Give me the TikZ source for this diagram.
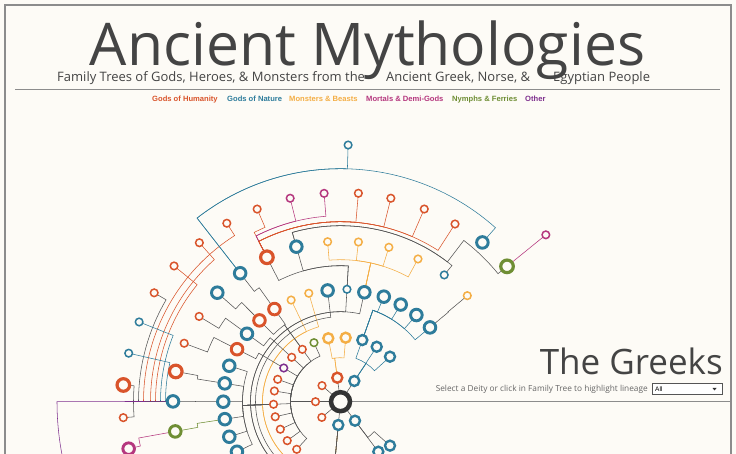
\documentclass[tikz,border=0pt]{standalone}
\usepackage{fontspec}
\setmainfont{Open Sans}
\newfontfamily\lsans{Liberation Sans}
\definecolor{bg}{HTML}{FDFBF6}
\definecolor{chum}{HTML}{D9542B}
\definecolor{cnat}{HTML}{2E7C9B}
\definecolor{cmon}{HTML}{F4AE45}
\definecolor{cmor}{HTML}{B5377E}
\definecolor{cnym}{HTML}{6F8E34}
\definecolor{coth}{HTML}{7E2F8E}
\definecolor{clnk}{HTML}{555555}
\definecolor{cdark}{HTML}{333333}
\definecolor{ctitle}{HTML}{444444}
\definecolor{cframe}{HTML}{8C8C8C}
\pgfdeclarelayer{bot}
\pgfdeclarelayer{links}
\pgfsetlayers{bot,links,main}
\newcommand\lnk[6]{\draw[#1] (#2) -- (#3:#6pt) arc[start angle=#3, end angle=#5, radius=#6pt] -- (#4);}
\begin{document}
\begin{tikzpicture}[x=1pt,y=1pt,
  nd/.style={circle, inner sep=0pt, outer sep=0pt, fill=bg},
  rs/.style={nd, minimum size=7.6pt, line width=1.5pt},
  rm/.style={nd, minimum size=10pt, line width=2.4pt},
  rl/.style={nd, minimum size=11.6pt, line width=2.9pt},
  rx/.style={nd, minimum size=12.6pt, line width=3.2pt},
  hum/.style={draw=chum}, nat/.style={draw=cnat}, mon/.style={draw=cmon},
  mor/.style={draw=cmor}, nym/.style={draw=cnym}, oth/.style={draw=coth},
  lk/.style={line width=0.55pt, draw=clnk},
  lhum/.style={line width=0.55pt, draw=chum},
  lnat/.style={line width=0.55pt, draw=cnat},
  lmon/.style={line width=0.55pt, draw=cmon},
  lmor/.style={line width=0.55pt, draw=cmor},
  lnym/.style={line width=0.55pt, draw=cnym},
  loth/.style={line width=0.55pt, draw=coth},
  legend/.style={anchor=base west, inner sep=0pt, font=\lsans\bfseries\fontsize{7.6}{8}\selectfont}
]
\useasboundingbox (0,0) rectangle (736,454);
\begin{pgfonlayer}{bot}
\fill[bg] (0,0) rectangle (736,454);
\end{pgfonlayer}

% frame
\draw[cframe, line width=1.3pt] (5,-5) -- (5,449) -- (731,449) -- (731,-5);

% title block
\node[anchor=base, inner sep=0pt, text=ctitle] (title) at (367.5,388) {\resizebox{555pt}{!}{Ancient Mythologies}};
\node[anchor=base west, inner sep=0pt, text=ctitle, font=\fontsize{13}{15}\selectfont] (sub1) at (57,372) {Family Trees of Gods, Heroes, \& Monsters from the};
\node[anchor=base west, inner sep=0pt, text=ctitle, font=\fontsize{13}{15}\selectfont] (sub2) at (386,372) {Ancient Greek, Norse, \&};
\node[anchor=base west, inner sep=0pt, text=ctitle, font=\fontsize{13}{15}\selectfont] (sub3) at (553,372) {Egyptian People};
\coordinate (ruleL) at (15,365);
\coordinate (ruleR) at (720,365);
\draw[cframe, line width=0.8pt] (ruleL) -- (ruleR);

% legend
\node[legend, text=chum] (lg1) at (152,352) {Gods of Humanity};
\node[legend, text=cnat] (lg2) at (227,352) {Gods of Nature};
\node[legend, text=cmon] (lg3) at (289,352) {Monsters \& Beasts};
\node[legend, text=cmor] (lg4) at (366,352) {Mortals \& Demi-Gods};
\node[legend, text=cnym] (lg5) at (452,352) {Nymphs \& Ferries};
\node[legend, text=coth] (lg6) at (525,352) {Other};

% The Greeks
\node[anchor=base east, inner sep=0pt, text=ctitle, font=\fontsize{35}{40}\selectfont] (greeks) at (723,79) {The Greeks};
\node[anchor=base east, inner sep=0pt, text=gray!80!black, font=\fontsize{8.3}{10}\selectfont] (seltxt) at (648,62) {Select a Deity or click in Family Tree to highlight lineage};
\node[draw=clnk, line width=0.6pt, fill=white, minimum width=70pt, minimum height=11pt, inner sep=0pt, anchor=south west] (sel) at (652,59) {};
\node[anchor=west, inner sep=0pt, font=\lsans\fontsize{6.5}{7}\selectfont] (selall) at (655,64.5) {All};
\fill[cdark] (712.5,66) -- (716.5,66) -- (714.5,63.5) -- cycle;

% ---------------- tree ----------------
\begin{scope}[shift={(340.5,52.3)}]
\node[nd, minimum size=19pt, line width=4.5pt, draw=cdark] (R) at (0,0) {};
% inner ring
\node[rs,hum] (a1) at (139:24.5pt) {};
\node[rs,hum] (a2) at (180:25pt) {};
\node[rs,hum] (a3) at (220:24.4pt) {};
\node[rm,hum] (a4) at (97.6:24.2pt) {};
\node[rm,nat] (a5) at (56.3:24.9pt) {};
\node[rm,nat] (a6) at (264.6:23.4pt) {};
\node[rm,nat] (a7) at (307.3:23.9pt) {};
% ring 2
\node[rs,nym] (b1) at (114.2:64.7pt) {};
\node[rs,hum] (b2) at (126.1:64.8pt) {};
\node[rs,hum] (b3) at (137.7:66pt) {};
\node[rs,oth] (b4) at (149.3:66pt) {};
\node[rs,hum] (b5) at (160.4:66.7pt) {};
\node[rs,hum] (b6) at (170.8:67pt) {};
\node[rs,hum] (b7) at (182.2:67pt) {};
\node[rs,hum] (b8) at (193:67pt) {};
\node[rs,hum] (b9) at (204.6:66.2pt) {};
\node[rs,hum] (b10) at (216.2:66pt) {};
\node[rs,hum] (b11) at (227.4:64.7pt) {};
\node[rm,mon] (y1) at (100.9:64.6pt) {};
\node[rm,mon] (y2) at (85.4:64.2pt) {};
\node[rm,nat] (c1) at (70.5:65.4pt) {};
\node[rm,nat] (c2) at (56.6:65.8pt) {};
\node[rm,nat] (c3) at (42.3:66.9pt) {};
\node[rm,nat] (d1) at (318.4:66.2pt) {};
\node[rm,nat] (d2) at (307.1:62.7pt) {};
% ring 3
\node[rs,mon] (e1) at (115.9:113pt) {};
\node[rs,mon] (e2) at (106.3:113pt) {};
\node[rl,nat] (e3) at (96.6:112pt) {};
\node[rs,nat] (e4) at (86.7:112.6pt) {};
\node[rl,nat] (e5) at (77.7:112pt) {};
\node[rl,nat] (e6) at (67.6:113.6pt) {};
\node[rl,nat] (e7) at (58.2:114.3pt) {};
\node[rl,nat] (e8) at (48.8:115.2pt) {};
\node[rl,nat] (e9) at (39.7:116.3pt) {};
\node[rl,hum] (f1) at (125.5:113.8pt) {};
\node[rl,hum] (f2) at (134.9:114.8pt) {};
\node[rl,nat] (f3) at (144:115.6pt) {};
\node[rl,hum] (f4) at (153.1:116pt) {};
\node[rl,nat] (f5) at (162.1:116.9pt) {};
\node[rl,nat] (f6) at (171:117.2pt) {};
\node[rl,nat] (f7) at (180:117.2pt) {};
\node[rl,nat] (f8) at (188.6:117pt) {};
\node[rl,nat] (f9) at (197.5:116.6pt) {};
\node[rl,nat] (f10) at (205.8:115pt) {};
% ring 4
\node[rs,mon] (g1) at (94.6:160.5pt) {};
\node[rs,mon] (g2) at (83.6:160.7pt) {};
\node[rs,mon] (g3) at (72.6:161.8pt) {};
\node[rs,mon] (g4) at (61.5:162.4pt) {};
\node[rl,nat] (h1) at (105.9:161.2pt) {};
\node[rx,hum] (h2) at (117:162.1pt) {};
\node[rl,nat] (h3) at (128:163pt) {};
\node[rl,nat] (h4) at (138.5:164.5pt) {};
\node[rs,hum] (h5) at (148.9:165.1pt) {};
\node[rs,hum] (h6) at (159.5:166.9pt) {};
\node[rx,hum] (h7) at (169.6:167.5pt) {};
\node[rl,nat] (h8) at (179.9:167.5pt) {};
\node[rl,nym] (h9) at (190.2:167.9pt) {};
\node[rs,nat] (h10) at (50.7:163.8pt) {};
\node[rs,mon] (h11) at (39.9:165.3pt) {};
% ring 5
\node[rs,hum] (k1) at (122.5:211.6pt) {};
\node[rs,hum] (k2) at (113.4:209.9pt) {};
\node[rs,mor] (k3) at (103.9:209.6pt) {};
\node[rs,mor] (k4) at (94.5:209pt) {};
\node[rs,hum] (k5) at (85.1:209.2pt) {};
\node[rs,hum] (k6) at (76.1:209.6pt) {};
\node[rs,hum] (k7) at (66.5:210.1pt) {};
\node[rs,hum] (k8) at (57.2:211.4pt) {};
\node[rl,nat] (k9) at (48.3:213.3pt) {};
\node[rx,nym] (k10) at (39.1:214.6pt) {};
\node[rs,hum] (k11) at (131.6:212.6pt) {};
\node[rs,hum] (k12) at (140.8:214.8pt) {};
\node[rs,hum] (k13) at (149.7:215.8pt) {};
\node[rs,nat] (k14) at (158.4:216.6pt) {};
\node[rs,nat] (k15) at (167.1:217.3pt) {};
\node[rx,hum] (k16) at (175.6:217.8pt) {};
\node[rs,hum] (k17) at (184.2:217.8pt) {};
\node[rl,mor] (k18) at (192.5:217pt) {};
\node[rs,nat] (m1) at (88.3:256.8pt) {};
\node[rs,mor] (n1) at (39.1:264.6pt) {};
\coordinate (pend) at (215:283.5pt);

\begin{pgfonlayer}{links}
\foreach \n in {a1,a2,a3,a4,a5,a6,a7} {\draw[lk] (R) -- (\n);}
\foreach \n/\a in {b1/114.2,b2/126.1,b3/137.7,b4/149.3,b5/160.4,b6/170.8,b7/182.2,b8/193,b9/204.6,b10/216.2,b11/227.4} {\lnk{lk}{\n}{\a}{a2}{180}{50}}
\lnk{lmon}{y1}{100.9}{a4}{97.6}{44}
\lnk{lmon}{y2}{85.4}{a4}{97.6}{44}
\foreach \n/\a in {c1/70.5,c2/56.6,c3/42.3} {\lnk{lnat}{\n}{\a}{a5}{56.3}{46}}
\lnk{lk}{d1}{318.4}{a7}{307.3}{45}
\lnk{lk}{d2}{307.1}{a7}{307.3}{45}
\lnk{lmon}{e1}{115.9}{a6}{264.6}{78}
\lnk{lmon}{e2}{106.3}{a6}{264.6}{78}
\lnk{lk}{e3}{96.6}{a6}{264.6}{85}
\lnk{lk}{e4}{86.7}{a6}{264.6}{90}
\lnk{lk}{e5}{77.7}{a6}{264.6}{90}
\foreach \n/\a in {e6/67.6,e7/58.2,e8/48.8,e9/39.7} {\lnk{lnat}{\n}{\a}{c1}{70.5}{97}}
\lnk{lk}{f1}{125.5}{b2}{126.1}{95}
\lnk{lk}{f2}{134.9}{b2}{126.1}{95}
\lnk{lk}{f3}{144}{b3}{137.7}{95}
\lnk{lk}{f4}{153.1}{b4}{149.3}{95}
\foreach \n/\a in {f5/162.1,f6/171,f7/180,f8/188.6,f9/197.5,f10/205.8} {\lnk{lk}{\n}{\a}{b7}{182.2}{98}}
\foreach \n/\a in {g1/94.6,g2/83.6,g3/72.6,g4/61.5} {\lnk{lmon}{\n}{\a}{e5}{77.7}{142}}
\lnk{lk}{h1}{105.9}{e4}{86.7}{136}
\lnk{lk}{h2}{117}{e4}{86.7}{136}
\lnk{lk}{h3}{128}{f1}{125.5}{140}
\lnk{lk}{h4}{138.5}{f2}{134.9}{140}
\lnk{lk}{h5}{148.9}{f3}{144}{142}
\lnk{lk}{h6}{159.5}{f4}{153.1}{142}
\lnk{lk}{h7}{169.6}{f6}{171}{145}
\lnk{lk}{h8}{179.9}{f7}{180}{145}
\lnk{lnym}{h9}{190.2}{f8}{188.6}{145}
\lnk{lk}{h10}{50.7}{h1}{105.9}{176}
\lnk{lk}{h11}{39.9}{e9}{39.7}{140}
\lnk{lhum}{k1}{122.5}{h8}{179.9}{197}
\lnk{lhum}{k2}{113.4}{h2}{117}{190}
\lnk{lmor}{k3}{103.9}{h2}{117}{186}
\lnk{lmor}{k4}{94.5}{h2}{117}{186}
\foreach \n/\a in {k5/85.1,k6/76.1,k7/66.5,k8/57.2} {\lnk{lhum}{\n}{\a}{h2}{117}{180}}
\lnk{lnat}{k9}{48.3}{h3}{128}{233}
\lnk{lnat}{m1}{88.3}{h3}{128}{233}
\draw[lk] (k10) -- (39.1:203pt) arc[start angle=39.1, end angle=52.6, radius=203pt] -- (52.6:176pt) arc[start angle=52.6, end angle=105.9, radius=176pt] -- (h1);
\draw[lmor] (k10) -- (n1);
\lnk{lhum}{k11}{131.6}{h8}{179.9}{190}
\lnk{lhum}{k12}{140.8}{h8}{179.9}{185}
\lnk{lk}{k13}{149.7}{h8}{179.9}{202}
\lnk{lnat}{k14}{158.4}{h8}{179.9}{180}
\lnk{lnat}{k15}{167.1}{h8}{179.9}{175}
\lnk{lk}{k16}{175.6}{h8}{179.9}{207}
\lnk{lk}{k17}{184.2}{h8}{179.9}{207}
\lnk{lmor}{k18}{192.5}{h9}{190.2}{205}
\draw[loth] (h8) -- (180:283.5pt) arc[start angle=180, end angle=215, radius=283.5pt];
\end{pgfonlayer}
\end{scope}
\coordinate (lineEnd) at (731,52.3);
\begin{pgfonlayer}{links}
\draw[cframe, line width=1.2pt] (R) -- (lineEnd);
\end{pgfonlayer}
\end{tikzpicture}
\end{document}
